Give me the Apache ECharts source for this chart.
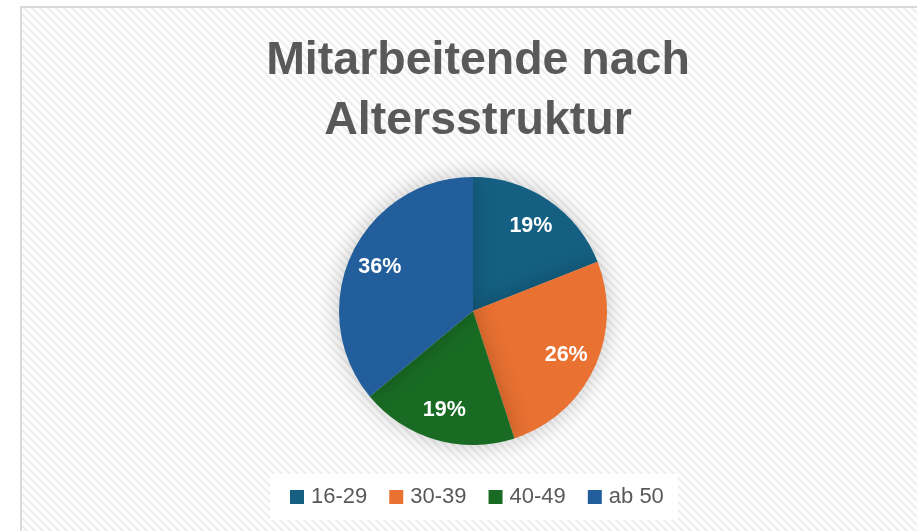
<!DOCTYPE html>
<html>
<head>
<meta charset="utf-8">
<script src="https://cdn.jsdelivr.net/npm/echarts@6/dist/echarts.min.js"></script>
<style>
  html, body { margin: 0; padding: 0; background: #fff; }
  #chart { width: 917px; height: 531px; }
</style>
</head>
<body>
<div id="chart"></div>
<script>
const categories = ['16-29', '30-39', '40-49', 'ab 50']
const shares = [19, 26, 19, 36]
const Colors = ['#156082', '#e97132', '#196b24', '#225e9b']
const titleText = 'Mitarbeitende nach\nAltersstruktur'

// diagonal stripe pattern for the plot area
const makeStripes = () => {
  const c = document.createElement('canvas')
  c.width = 8
  c.height = 8
  const ctx = c.getContext('2d')
  ctx.fillStyle = '#ffffff'
  ctx.fillRect(0, 0, 8, 8)
  ctx.strokeStyle = '#efefef'
  ctx.lineWidth = 2.5
  ctx.beginPath()
  ctx.moveTo(-2, -2); ctx.lineTo(10, 10)
  ctx.moveTo(-6, 2); ctx.lineTo(6, 14)
  ctx.moveTo(2, -6); ctx.lineTo(14, 6)
  ctx.stroke()
  return c
}

var myChart = echarts.init(document.getElementById('chart'), null, { renderer: 'canvas' })

const pieData = categories.map((name, i) => ({
  name,
  value: shares[i],
  itemStyle: { color: Colors[i] }
}))

var option = {
  backgroundColor: '#ffffff',
  animation: false,
  graphic: [{
    type: 'rect',
    z: -10,
    shape: { x: 21, y: 7, width: 910, height: 540 },
    style: {
      fill: { image: makeStripes(), repeat: 'repeat' },
      stroke: '#d9d9d9',
      lineWidth: 2
    }
  }],
  title: {
    text: titleText,
    left: 473,
    textAlign: 'center',
    top: 26,
    textStyle: {
      color: '#595959',
      fontFamily: 'Liberation Sans',
      fontWeight: 'bold',
      fontSize: 46.5,
      lineHeight: 60
    }
  },
  legend: {
    data: categories,
    left: 270,
    top: 474,
    backgroundColor: '#ffffff',
    padding: [12, 14, 12, 20],
    itemWidth: 14,
    itemHeight: 14,
    itemGap: 22,
    icon: 'rect',
    textStyle: {
      color: '#595959',
      fontFamily: 'Liberation Sans',
      fontSize: 22,
      padding: [0, 0, 0, 2]
    }
  },
  series: [{
    type: 'pie',
    center: [473, 311],
    radius: 134,
    startAngle: 90,
    clockwise: true,
    label: { show: false },
    labelLine: { show: false },
    itemStyle: {
      borderWidth: 0,
      shadowBlur: 22,
      shadowColor: 'rgba(0,0,0,0.22)'
    },
    emphasis: { disabled: true },
    data: pieData
  }, {
    // transparent ring only used to push labels outward
    type: 'pie',
    center: [473, 311],
    radius: [66, 134],
    startAngle: 90,
    clockwise: true,
    silent: true,
    itemStyle: { color: 'rgba(0,0,0,0)' },
    label: {
      show: true,
      position: 'inside',
      formatter: '{d}%',
      color: '#ffffff',
      fontFamily: 'Liberation Sans',
      fontWeight: 'bold',
      fontSize: 21.5
    },
    labelLine: { show: false },
    emphasis: { disabled: true },
    data: categories.map((name, i) => ({ name, value: shares[i] }))
  }]
}

myChart.setOption(option, true)
</script>
</body>
</html>
